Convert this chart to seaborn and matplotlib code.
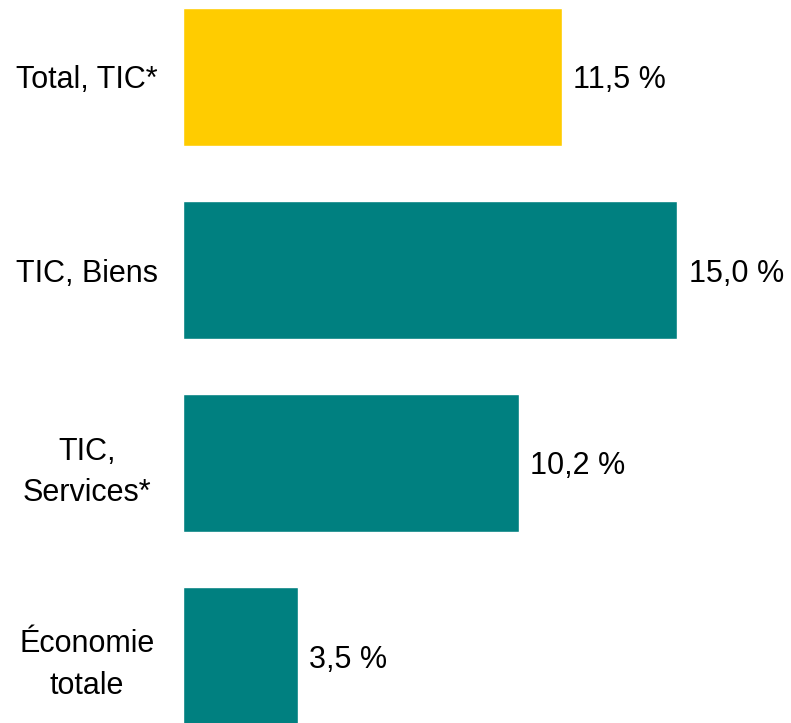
import matplotlib.pyplot as plt
import pandas as pd
import seaborn as sns

categories = ['Total, TIC*', 'TIC, Biens', 'TIC,\nServices*', 'Économie\ntotale']
values = [11.5, 15.0, 10.2, 3.5]
colors = ['#FFCC00', '#008080', '#008080', '#008080']


def main():
    sns.set_style('white')
    plt.rcParams['font.family'] = ['Liberation Sans', 'DejaVu Sans']

    df = pd.DataFrame({'cat': categories, 'val': values})

    fig = plt.figure(figsize=(7.91, 7.23), dpi=100)
    ax = fig.add_axes([183 / 791, 0, 600 / 791, 1])
    sns.barplot(data=df, x='val', y='cat', hue='cat', palette=colors,
                legend=False, width=0.715, saturation=1, ax=ax)

    px = 32.96  # pixels par unité
    ax.set_xlim(0, 600 / px)
    ax.set_ylim(3 + 67 / 193, -77 / 193)

    for c in ax.containers:
        txts = ax.bar_label(c, labels=[f'{v:.1f} %'.replace('.', ',') for v in c.datavalues],
                            padding=8, fontsize=22, color='#000000')
        for t in txts:
            t.set_va('center_baseline')

    ax.set_xlabel('')
    ax.set_ylabel('')
    ax.set_xticks([])
    ax.tick_params(axis='y', length=0, pad=69, labelsize=22, labelcolor='#000000')
    for lab in ax.get_yticklabels():
        lab.set_ha('center')
        lab.set_multialignment('center')
        lab.set_linespacing(1.5)
    sns.despine(ax=ax, left=True, bottom=True)

    fig.savefig('out.png', dpi=100)


if __name__ == "__main__":
    main()
